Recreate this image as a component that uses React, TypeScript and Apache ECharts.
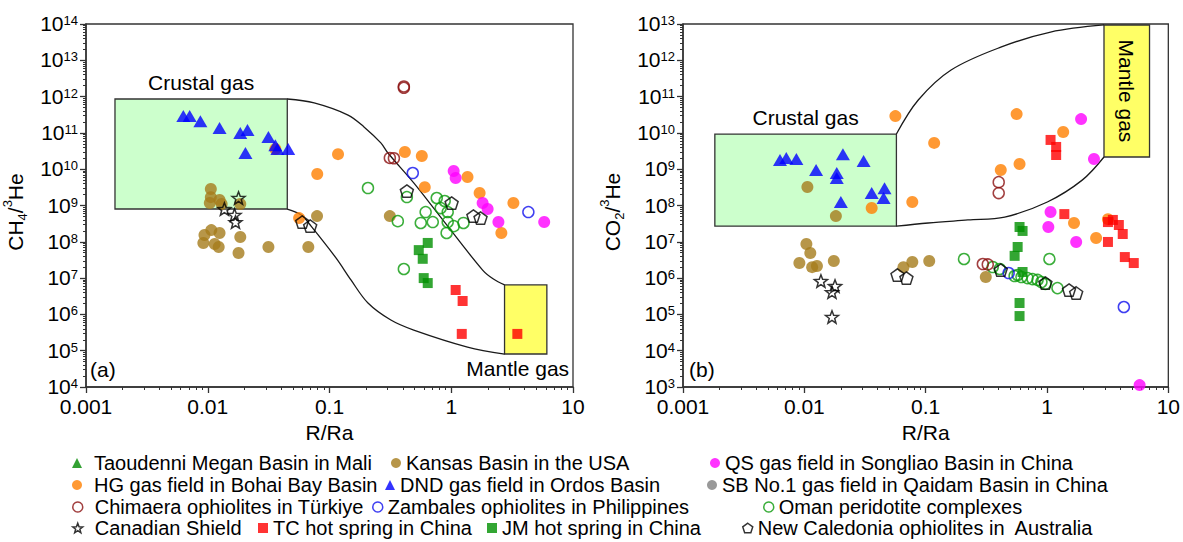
import React, { useEffect, useRef } from "react";
import * as echarts from "echarts";

type Pt = [number, number];

// ---------- axis ranges ----------
const xRange: Pt = [0.001, 10];
const yRangeA: Pt = [1e4, 1e14];
const yRangeB: Pt = [1e3, 1e13];

// ---------- series names (legend order) ----------
const NAMES: Record<string, string> = {
  taoudenni: "Taoudenni Megan Basin in Mali",
  kansas: "Kansas Basin in the USA",
  qs: "QS gas field in Songliao Basin in China",
  hg: "HG gas field in Bohai Bay Basin",
  dnd: "DND gas field in Ordos Basin",
  sb: "SB No.1 gas field in Qaidam Basin in China",
  chimaera: "Chimaera ophiolites in Türkiye",
  zambales: "Zambales ophiolites in Philippines",
  oman: "Oman peridotite complexes",
  canadian: "Canadian Shield",
  tc: "TC hot spring in China",
  jm: "JM hot spring in China",
  caledonia: "New Caledonia ophiolites in  Australia",
};

// ---------- panel (a): CH4/3He vs R/Ra ----------
const taoudenniA: Pt[] = [];
const sbA: Pt[] = [];
const dndA: Pt[] = [
  [0.0063, 2.9e11], [0.0071, 2.9e11], [0.0087, 2.1e11], [0.0125, 1.37e11],
  [0.0185, 9.9e10], [0.0212, 1.2e11], [0.0204, 2.8e10], [0.0315, 7.7e10],
  [0.0359, 4.6e10], [0.0373, 3.6e10], [0.0458, 3.6e10],
];
const kansasA: Pt[] = [
  [0.0106, 2.85e9], [0.0106, 1.7e9], [0.0104, 1.17e9], [0.0125, 1.42e9],
  [0.013, 1.1e9], [0.0185, 1.1e9], [0.0107, 2.1e8], [0.0094, 1.54e8],
  [0.0125, 1.75e8], [0.0185, 1.36e8], [0.0092, 9.3e7], [0.0114, 8.7e7],
  [0.0123, 7.2e7], [0.0179, 4.9e7], [0.0315, 7.2e7], [0.067, 7.2e7],
  [0.079, 5.1e8], [0.313, 5.1e8],
];
const canadianA: Pt[] = [
  [0.0179, 1.61e9], [0.0137, 8.0e8], [0.0166, 5.5e8], [0.0169, 3.5e8],
];
const hgA: Pt[] = [
  [0.0359, 3.6e10], [0.1175, 2.6e10], [0.0793, 7.4e9], [0.416, 2.98e10],
  [0.573, 2.3e10], [0.606, 3.2e9], [1.36, 6.1e9], [1.71, 2.2e9],
  [3.24, 1.17e9], [2.58, 1.75e8], [0.0563, 4.5e8],
];
const qsA: Pt[] = [
  [1.047, 8.9e9], [1.087, 5.7e9], [1.81, 1.17e9], [1.99, 8.0e8],
  [2.44, 3.5e8], [5.8, 3.5e8],
];
const chimaeraA: Pt[] = [
  [0.408, 1.9e12], [0.408, 1.75e12], [0.313, 2.04e10], [0.338, 2.0e10],
];
const zambalesA: Pt[] = [[0.483, 7.85e9], [4.3, 6.6e8]];
const omanA: Pt[] = [
  [0.207, 3.03e9], [0.432, 1.71e9], [0.364, 3.7e8], [0.76, 1.61e9],
  [0.883, 1.33e9], [0.819, 8.5e8], [0.616, 6.6e8], [0.935, 6.6e8],
  [0.562, 3.3e8], [0.705, 3.5e8], [0.935, 3.5e8], [1.047, 2.7e8],
  [1.26, 3.3e8], [0.916, 1.75e8], [0.408, 1.78e7],
];
const caledoniaA: Pt[] = [
  [0.432, 2.5e9], [1.007, 1.17e9], [1.52, 5.1e8], [1.74, 4.5e8],
  [0.0597, 3.5e8], [0.0694, 2.7e8],
];
const jmA: Pt[] = [
  [0.641, 9.3e7], [0.541, 5.9e7], [0.583, 3.4e7], [0.594, 1.0e7], [0.641, 7.3e6],
];
const tcA: Pt[] = [[1.087, 4.7e6], [1.24, 2.34e6], [1.22, 2.9e5], [3.49, 2.9e5]];

// field outlines, panel (a)
const crustalBoxA: Pt[] = [[0.00173, 8.0e8], [0.045, 8.6e11]];
const mantleBoxA: Pt[] = [[2.74, 8.1e4], [6.1, 6.5e6]];
const upperCurveA: Pt[] = [
  [0.045, 8.6e11], [0.0748, 6.7e11], [0.142, 3.1e11], [0.192, 1.46e11],
  [0.264, 5.3e10], [0.302, 2.8e10], [0.492, 4.2e9], [0.818, 4.8e8],
  [1.81, 1.66e7], [2.22, 9.4e6], [2.74, 6.5e6],
];
const lowerCurveA: Pt[] = [
  [0.045, 8.0e8], [0.0586, 5.5e8], [0.0706, 2.7e8], [0.113, 3.6e7],
  [0.15, 8.9e6], [0.207, 2.06e6], [0.319, 7.0e5], [0.492, 3.7e5],
  [1.36, 1.26e5], [2.74, 8.1e4],
];

// ---------- panel (b): CO2/3He vs R/Ra ----------
const taoudenniB: Pt[] = [];
const sbB: Pt[] = [];
const dndB: Pt[] = [
  [0.0063, 1.79e9], [0.0071, 2.04e9], [0.0086, 1.91e9], [0.0125, 9.5e8],
  [0.0208, 2.6e9], [0.0185, 7.9e8], [0.0185, 5.7e8], [0.02, 1.25e8],
  [0.0308, 1.68e9], [0.0359, 2.2e8], [0.0458, 3.0e8], [0.045, 1.6e8],
];
const kansasB: Pt[] = [
  [0.0106, 3.24e8], [0.0182, 5.1e7], [0.0104, 8.7e6], [0.0112, 4.9e6],
  [0.0091, 2.6e6], [0.0116, 2.0e6], [0.0127, 2.15e6], [0.0175, 2.96e6],
  [0.0656, 2.0e6], [0.0776, 2.78e6], [0.107, 2.96e6], [0.313, 1.07e6],
];
const canadianB: Pt[] = [
  [0.0137, 8.3e5], [0.0179, 6.05e5], [0.0169, 4.1e5], [0.0169, 8.5e4],
];
const hgB: Pt[] = [
  [0.0359, 8.5e7], [0.0563, 2.9e10], [0.1175, 5.3e9], [0.562, 3.3e10],
  [0.416, 9.5e8], [0.594, 1.39e9], [1.36, 1.06e10], [0.0776, 1.25e8],
  [1.67, 3.3e7], [3.18, 4.2e7], [2.54, 1.27e7],
];
const qsB: Pt[] = [
  [1.91, 2.4e10], [2.44, 1.91e9], [1.07, 6.6e7], [1.026, 2.56e7],
  [1.74, 9.9e6], [5.8, 1.13e3],
];
const tcB: Pt[] = [
  [1.07, 6.4e9], [1.19, 4.1e9], [1.19, 2.46e9], [1.39, 5.8e7],
  [3.18, 3.5e7], [3.49, 4.0e7], [3.91, 2.9e7], [4.21, 1.64e7],
  [3.18, 9.9e6], [4.38, 3.8e6], [5.19, 2.6e6],
];
const jmB: Pt[] = [
  [0.594, 2.56e7], [0.629, 1.99e7], [0.573, 7.2e6], [0.541, 4.1e6],
  [0.629, 1.47e6], [0.594, 2.06e5], [0.594, 9.0e4],
];
const chimaeraB: Pt[] = [
  [0.4, 4.4e8], [0.4, 2.2e8], [0.296, 2.44e6], [0.325, 2.38e6],
];
const zambalesB: Pt[] = [[0.483, 1.38e6], [4.3, 1.6e5]];
const omanB: Pt[] = [
  [0.207, 3.36e6], [0.357, 2.02e6], [0.408, 1.78e6], [1.047, 3.36e6],
  [0.541, 1.14e6], [0.573, 1.22e6], [0.616, 1.07e6], [0.691, 1.0e6],
  [0.76, 9.4e5], [0.836, 8.9e5], [0.9, 7.8e5], [0.97, 6.9e5], [1.22, 5.3e5],
];
const caledoniaB: Pt[] = [
  [0.0586, 1.22e6], [0.0694, 1.0e6], [0.416, 1.67e6], [0.97, 7.3e5],
  [1.52, 4.7e5], [1.74, 3.9e5],
];

// field outlines, panel (b)
const crustalBoxB: Pt[] = [[0.00183, 2.7e7], [0.0574, 9.3e9]];
const mantleBoxB: Pt[] = [[2.95, 2.17e9], [7.0, 9.4e12]];
const upperCurveB: Pt[] = [
  [0.0574, 9.3e9], [0.0869, 8.05e10], [0.162, 5.4e11], [0.416, 2.3e12],
  [1.07, 6.0e12], [2.95, 9.4e12],
];
const lowerCurveB: Pt[] = [
  [0.0574, 2.7e7], [0.105, 3.3e7], [0.223, 4.0e7], [0.448, 4.8e7],
  [1.007, 1.25e8], [1.95, 5.0e8], [2.95, 2.17e9],
];

// ---------- marker looks ----------
const FONT = "'Liberation Sans', Arial, Helvetica, sans-serif";
const STAR =
  "path://M50 0L62.34 33.01L97.55 34.55L69.97 56.49L79.39 90.45L50 71L20.61 90.45L30.03 56.49L2.45 34.55L37.66 33.01Z";
const PENTAGON = "path://M50 0L97.55 34.55L79.39 90.45L20.61 90.45L2.45 34.55Z";

interface Look {
  symbol: string;
  size: number | number[];
  fill: string;
  stroke?: string;
}
const LOOKS: Record<string, Look> = {
  taoudenni: { symbol: "triangle", size: [14, 12], fill: "#008a00" },
  kansas: { symbol: "circle", size: 12, fill: "#a57c1b" },
  qs: { symbol: "circle", size: 12, fill: "#ff00ff" },
  hg: { symbol: "circle", size: 12, fill: "#ff8000" },
  dnd: { symbol: "triangle", size: [14, 12], fill: "#0000ff" },
  sb: { symbol: "circle", size: 12, fill: "#808080" },
  chimaera: { symbol: "circle", size: 11, fill: "none", stroke: "#8b1010" },
  zambales: { symbol: "circle", size: 11, fill: "none", stroke: "#1010ee" },
  oman: { symbol: "circle", size: 11, fill: "none", stroke: "#0a9a0a" },
  canadian: { symbol: STAR, size: 13, fill: "none", stroke: "#000000" },
  tc: { symbol: "rect", size: 10, fill: "#ff0000" },
  jm: { symbol: "rect", size: 10, fill: "#009000" },
  caledonia: { symbol: PENTAGON, size: 13, fill: "none", stroke: "#000000" },
};

function markerStyle(look: Look) {
  return look.stroke
    ? { color: "rgba(0,0,0,0)", borderColor: look.stroke, borderWidth: 1.5 }
    : { color: look.fill };
}

function scatter(key: string, data: Pt[], panel: number) {
  const look = LOOKS[key];
  return {
    type: "scatter",
    name: NAMES[key],
    xAxisIndex: panel,
    yAxisIndex: panel,
    data,
    symbol: look.symbol,
    symbolSize: look.size,
    symbolKeepAspect: true,
    itemStyle: markerStyle(look),
    silent: true,
    z: 4,
  };
}

const boxBorder = { borderColor: "#333", borderWidth: 1.3 };
const annot = { fontSize: 21, color: "#000", fontFamily: FONT };

function outline(data: Pt[], panel: number, markArea?: any) {
  return {
    type: "line",
    xAxisIndex: panel,
    yAxisIndex: panel,
    data,
    smooth: 0.35,
    symbol: "none",
    silent: true,
    lineStyle: { color: "#1a1a1a", width: 1.3 },
    z: 2,
    ...(markArea ? { markArea } : {}),
  };
}

function xAxis(gridIndex: number) {
  return {
    type: "log",
    gridIndex,
    logBase: 10,
    min: xRange[0],
    max: xRange[1],
    interval: 1,
    name: "R/Ra",
    nameLocation: "middle",
    nameGap: 31,
    nameTextStyle: { fontSize: 21, color: "#000", fontFamily: FONT },
    axisLine: { show: true, onZero: false, lineStyle: { color: "#333", width: 1.5 } },
    axisTick: { show: true, inside: false, length: 6, lineStyle: { color: "#333", width: 1.3 } },
    minorTick: { show: true, splitNumber: 9, length: 3, lineStyle: { color: "#333", width: 1 } },
    axisLabel: {
      fontSize: 21,
      lineHeight: 21,
      color: "#000",
      fontFamily: FONT,
      margin: 9,
      formatter: (v: number) => {
        const e = Math.round(Math.log10(v));
        return e >= 0 ? String(Math.pow(10, e)) : Math.pow(10, e).toFixed(-e);
      },
    },
    splitLine: { show: false },
  };
}

function yAxis(gridIndex: number, range: Pt, gas: string) {
  return {
    type: "log",
    gridIndex,
    logBase: 10,
    min: range[0],
    max: range[1],
    interval: 1,
    name: gas + "{sup|3}He",
    nameLocation: "middle",
    nameGap: 57,
    nameRotate: 90,
    nameTextStyle: {
      fontSize: 21,
      color: "#000",
      fontFamily: FONT,
      lineHeight: 28,
      padding: [0, 13, 0, 0],
      rich: {
        sub: { fontSize: 13, lineHeight: 14, verticalAlign: "bottom", fontFamily: FONT, color: "#000" },
        sup: { fontSize: 13, lineHeight: 14, verticalAlign: "top", fontFamily: FONT, color: "#000" },
      },
    },
    axisLine: { show: true, onZero: false, lineStyle: { color: "#333", width: 1.5 } },
    axisTick: { show: true, inside: false, length: 6, lineStyle: { color: "#333", width: 1.3 } },
    minorTick: { show: true, splitNumber: 9, length: 3, lineStyle: { color: "#333", width: 1 } },
    axisLabel: {
      color: "#000",
      margin: 8,
      formatter: (v: number) => `{b|10}{s|${Math.round(Math.log10(v))}}`,
      rich: {
        b: { fontSize: 21, lineHeight: 20, verticalAlign: "bottom", fontFamily: FONT, color: "#000" },
        s: { fontSize: 13, lineHeight: 11, verticalAlign: "top", fontFamily: FONT, color: "#000" },
      },
    },
    splitLine: { show: false },
  };
}

// legend entries: [series key, icon left, row centre, extra text gap]
const legendSlots: [string, number, number, number][] = [
  ["taoudenni", 72, 463, 7], ["kansas", 391, 463, 0], ["qs", 710, 463, 0],
  ["hg", 72, 485, 7], ["dnd", 385, 485, 0], ["sb", 707, 485, 0],
  ["chimaera", 72, 507, 7], ["zambales", 372, 507, 0], ["oman", 763, 507, 0],
  ["canadian", 72, 528, 7], ["tc", 258, 528, 0], ["jm", 487, 528, 0], ["caledonia", 742, 528, 0],
];

function buildOption() {
  const seriesA = [
    outline(upperCurveA, 0, {
      silent: true,
      data: [
        [
          {
            name: "Crustal gas",
            coord: crustalBoxA[0],
            itemStyle: { color: "#ccffcc", ...boxBorder },
            label: { show: true, position: "top", distance: 5, ...annot },
          },
          { coord: crustalBoxA[1] },
        ],
        [
          {
            name: "Mantle gas",
            coord: mantleBoxA[0],
            itemStyle: { color: "#ffff66", ...boxBorder },
            label: { show: true, position: "bottom", distance: 3, offset: [-8, 0], ...annot },
          },
          { coord: mantleBoxA[1] },
        ],
      ],
    }),
    outline(lowerCurveA, 0),
    scatter("taoudenni", taoudenniA, 0),
    scatter("sb", sbA, 0),
    scatter("kansas", kansasA, 0),
    scatter("hg", hgA, 0),
    scatter("qs", qsA, 0),
    scatter("tc", tcA, 0),
    scatter("jm", jmA, 0),
    scatter("oman", omanA, 0),
    scatter("chimaera", chimaeraA, 0),
    scatter("zambales", zambalesA, 0),
    scatter("dnd", dndA, 0),
    scatter("canadian", canadianA, 0),
    scatter("caledonia", caledoniaA, 0),
  ];
  const seriesB = [
    outline(upperCurveB, 1, {
      silent: true,
      data: [
        [
          {
            name: "Crustal gas",
            coord: crustalBoxB[0],
            itemStyle: { color: "#ccffcc", ...boxBorder },
            label: { show: true, position: "top", distance: 5, ...annot },
          },
          { coord: crustalBoxB[1] },
        ],
        [
          {
            name: "Mantle gas",
            coord: mantleBoxB[0],
            itemStyle: { color: "#ffff66", ...boxBorder },
            label: { show: true, position: "inside", rotate: -90, ...annot },
          },
          { coord: mantleBoxB[1] },
        ],
      ],
    }),
    outline(lowerCurveB, 1),
    scatter("taoudenni", taoudenniB, 1),
    scatter("sb", sbB, 1),
    scatter("kansas", kansasB, 1),
    scatter("hg", hgB, 1),
    scatter("qs", qsB, 1),
    scatter("tc", tcB, 1),
    scatter("jm", jmB, 1),
    scatter("oman", omanB, 1),
    scatter("chimaera", chimaeraB, 1),
    scatter("zambales", zambalesB, 1),
    scatter("dnd", dndB, 1),
    scatter("canadian", canadianB, 1),
    scatter("caledonia", caledoniaB, 1),
  ];

  const legend = legendSlots.map(([key, left, cy, gap]) => {
    const look = LOOKS[key];
    return {
      data: [{ name: NAMES[key], icon: look.symbol, itemStyle: markerStyle(look) }],
      left,
      top: cy - 11,
      padding: 0,
      itemWidth: 10,
      itemHeight: 10,
      selectedMode: false,
      textStyle: {
        fontSize: 20,
        lineHeight: 22,
        color: "#000",
        fontFamily: FONT,
        padding: [0, 0, 0, gap],
      },
    };
  });

  return {
    animation: false,
    backgroundColor: "#ffffff",
    grid: [
      { left: 84, top: 24, width: 489, height: 363, show: true, borderColor: "#333", borderWidth: 1.3 },
      { left: 683, top: 24, width: 488, height: 363, show: true, borderColor: "#333", borderWidth: 1.3 },
    ],
    xAxis: [xAxis(0), xAxis(1)],
    yAxis: [yAxis(0, yRangeA, "CH{sub|4}/"), yAxis(1, yRangeB, "CO{sub|2}/")],
    legend,
    graphic: [
      { type: "text", left: 90, top: 359, style: { text: "(a)", fill: "#000", font: `21px ${FONT}` } },
      { type: "text", left: 689, top: 359, style: { text: "(b)", fill: "#000", font: `21px ${FONT}` } },
    ],
    series: [...seriesA, ...seriesB],
  };
}

export default function App() {
  const ref = useRef<HTMLDivElement>(null);
  useEffect(() => {
    if (!ref.current) return;
    const chart = echarts.init(ref.current, undefined, { renderer: "svg" });
    chart.setOption(buildOption() as any);
    return () => chart.dispose();
  }, []);
  return (
    <div
      ref={ref}
      style={{ position: "fixed", left: 0, top: 0, width: 1183, height: 542, background: "#fff" }}
    />
  );
}
